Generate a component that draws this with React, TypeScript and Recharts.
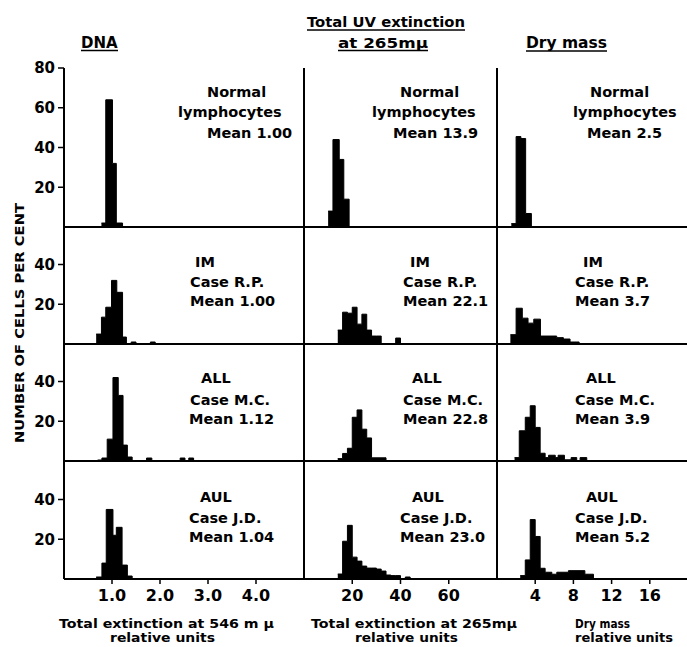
import { AreaChart, Area, XAxis, YAxis } from 'recharts';

// Histogram bins: left edges (relative units, last value closes the last bin)
// and per cent of cells falling in each bin. A 0 entry leaves a gap.
const dnaNormalEdges = [0.78, 0.87, 1.01, 1.09, 1.22];
const dnaNormalPct = [2, 64, 32, 2];
const dnaImEdges = [0.67, 0.78, 0.87, 0.99, 1.1, 1.22, 1.3, 1.4, 1.5, 1.8, 1.9];
const dnaImPct = [5, 13.5, 18.5, 32, 26, 3.5, 0, 1, 0, 1];
const dnaAllEdges = [0.7, 0.79, 0.9, 1.02, 1.13, 1.23, 1.32, 1.42, 1.72, 1.83, 2.42, 2.52, 2.6, 2.7];
const dnaAllPct = [0.5, 1.5, 11, 42, 33, 8, 2, 0, 1.5, 0, 1.5, 0, 1.5];
const dnaAulEdges = [0.67, 0.79, 0.88, 1.02, 1.09, 1.21, 1.32, 1.42];
const dnaAulPct = [1, 8, 35, 22, 26, 7, 1.5];

const uvNormalEdges = [10, 12, 14.6, 16.5, 18.7];
const uvNormalPct = [8, 44, 34, 14];
const uvImEdges = [14, 16, 18, 20, 22, 24, 26, 28, 30, 32, 38, 40];
const uvImPct = [7, 16, 15.5, 18.5, 10, 15, 7, 4, 4, 0, 3];
const uvAllEdges = [14, 16, 18, 20, 22, 24, 26, 28, 34];
const uvAllPct = [1.2, 3.8, 6.4, 22, 25.7, 16, 11.6, 1.6];
const uvAulEdges = [14, 16, 18, 20, 22, 24, 26, 28, 30, 32, 34, 36, 38, 40, 42, 44];
const uvAulPct = [2.5, 19, 27, 11, 9, 6.5, 5.5, 5.5, 5, 4, 2, 1.7, 1.7, 0, 1];

const dryNormalEdges = [1.5, 2.0, 2.5, 3.0, 3.6];
const dryNormalPct = [1.7, 45.5, 44.5, 6.8];
const dryImEdges = [1.4, 2.0, 2.65, 3.25, 3.85, 4.55, 6.25, 6.95, 7.65, 8.6];
const dryImPct = [4.7, 18, 13, 10.5, 12.5, 4, 3.2, 2.5, 1];
const dryAllEdges = [1.84, 2.33, 2.96, 3.48, 4.0, 4.52, 5.04, 5.4, 6.1, 6.4, 7.06, 7.76, 8.35, 8.7, 9.4];
const dryAllPct = [1.7, 15.2, 22, 27.8, 16.9, 3.9, 1.7, 2.9, 1.7, 2.9, 0.6, 1.7, 0, 1.7];
const dryAulEdges = [2.43, 2.96, 3.48, 4.0, 4.52, 5.04, 5.74, 6.26, 7.48, 9.2, 10.1];
const dryAulPct = [1.7, 9.6, 29.9, 21.4, 5.4, 3.4, 2.4, 3.4, 4.2, 2.4];

// rows: Normal, IM, ALL, AUL; columns: DNA, UV extinction, dry mass
const panels = [
  [[dnaNormalEdges, dnaNormalPct], [uvNormalEdges, uvNormalPct], [dryNormalEdges, dryNormalPct]],
  [[dnaImEdges, dnaImPct], [uvImEdges, uvImPct], [dryImEdges, dryImPct]],
  [[dnaAllEdges, dnaAllPct], [uvAllEdges, uvAllPct], [dryAllEdges, dryAllPct]],
  [[dnaAulEdges, dnaAulPct], [uvAulEdges, uvAulPct], [dryAulEdges, dryAulPct]],
];

const xDomains = [[0, 5], [0, 80], [0, 20]];
const xTicks = [[1, 2, 3, 4], [20, 40, 60], [4, 8, 12, 16]];
const topRowTicks = [20, 40, 60, 80];
const lowerRowTicks = [20, 40];

const notes = [
  [['Normal', 'lymphocytes', 'Mean 1.00'], ['Normal', 'lymphocytes', 'Mean 13.9'], ['Normal', 'lymphocytes', 'Mean 2.5']],
  [['IM', 'Case R.P.', 'Mean 1.00'], ['IM', 'Case R.P.', 'Mean 22.1'], ['IM', 'Case R.P.', 'Mean 3.7']],
  [['ALL', 'Case M.C.', 'Mean 1.12'], ['ALL', 'Case M.C.', 'Mean 22.8'], ['ALL', 'Case M.C.', 'Mean 3.9']],
  [['AUL', 'Case J.D.', 'Mean 1.04'], ['AUL', 'Case J.D.', 'Mean 23.0'], ['AUL', 'Case J.D.', 'Mean 5.2']],
];

// layout (pixels)
const COL_X = [[64, 304], [304, 497], [497, 688]];
const ROW_Y = [[68, 227], [227, 344], [344, 461], [461, 579]];
const PX_PER_PCT = 159 / 80;
const noteLeft = [
  [[207, 178, 207], [400, 372, 393], [590, 573, 587]],
  [[195, 190, 190], [410, 403, 403], [583, 575, 575]],
  [[201, 190, 189], [412, 403, 403], [586, 575, 575]],
  [[200, 189, 189], [412, 400, 400], [586, 575, 575]],
];
const noteBase = [[97, 117, 138], [267, 287, 306], [383, 405, 424], [502, 523, 542]];

const FONT = 'DejaVu Sans';
const PAD_L = 45;
const PAD_T = 10;
const PAD_R = 10;
const PAD_B = 40;

function Histogram({ row, col }: { row: number; col: number }) {
  const [edges, pct] = panels[row][col];
  const [x0, x1] = COL_X[col];
  const [y0, y1] = ROW_Y[row];
  const w = x1 - x0;
  const h = y1 - y0;
  const yMax = row === 0 ? 80 : h / PX_PER_PCT;
  const data = edges.map((x, i) => ({ x, y: pct[i] ?? 0 }));
  const axisLine = { stroke: '#000', strokeWidth: 2 };
  const tickLine = { stroke: '#000', strokeWidth: 1.5 };
  const labelStyle = { fill: '#000', fontSize: 15, fontWeight: 'bold', fontFamily: FONT };

  return (
    <div style={{ position: 'absolute', left: x0 - PAD_L, top: y0 - PAD_T }}>
      <AreaChart
        width={w + PAD_L + PAD_R}
        height={h + PAD_T + PAD_B}
        data={data}
        margin={{ top: PAD_T, right: PAD_R, bottom: 0, left: 0 }}
      >
        <XAxis
          type="number"
          dataKey="x"
          domain={xDomains[col]}
          ticks={xTicks[col]}
          interval={0}
          allowDataOverflow
          height={PAD_B}
          tickSize={5}
          tickMargin={6}
          axisLine={axisLine}
          tickLine={tickLine}
          tick={row === 3 ? { ...labelStyle, fontSize: 16 } : false}
          tickFormatter={(v: number) => (col === 0 ? v.toFixed(1) : String(v))}
        />
        <YAxis
          type="number"
          domain={[0, yMax]}
          ticks={row === 0 ? topRowTicks : lowerRowTicks}
          interval={0}
          allowDataOverflow
          width={PAD_L}
          tickSize={6}
          tickMargin={3}
          axisLine={axisLine}
          tickLine={tickLine}
          tick={col === 0 ? labelStyle : false}
        />
        <Area
          type="stepAfter"
          dataKey="y"
          baseValue={0}
          stroke="#000"
          strokeWidth={1}
          fill="#000"
          fillOpacity={1}
          dot={false}
          activeDot={false}
          isAnimationActive={false}
        />
      </AreaChart>
    </div>
  );
}

function Titles() {
  const t = { fontFamily: FONT, fontWeight: 'bold' as const, fill: '#000' };
  return (
    <svg width={687} height={647} style={{ position: 'absolute', left: 0, top: 0, pointerEvents: 'none' }}>
      <text x={81} y={48} fontSize={15} {...t}>DNA</text>
      <line x1={81} x2={118} y1={50.5} y2={50.5} stroke="#000" strokeWidth={1.5} />
      <text x={307} y={27} fontSize={14} textLength={158} lengthAdjust="spacingAndGlyphs" {...t}>Total UV extinction</text>
      <line x1={307} x2={465} y1={30} y2={30} stroke="#000" strokeWidth={1.5} />
      <text x={338} y={48} fontSize={14} textLength={90} lengthAdjust="spacingAndGlyphs" {...t}>at 265mμ</text>
      <line x1={338} x2={428} y1={50.5} y2={50.5} stroke="#000" strokeWidth={1.5} />
      <text x={526} y={48} fontSize={15} textLength={81} lengthAdjust="spacingAndGlyphs" {...t}>Dry mass</text>
      <line x1={526} x2={607} y1={51} y2={51} stroke="#000" strokeWidth={1.5} />

      {notes.map((rowNotes, r) =>
        rowNotes.map((lines, c) =>
          lines.map((line, k) => (
            <text key={`${r}-${c}-${k}`} x={noteLeft[r][c][k]} y={noteBase[r][k]} fontSize={14.5} {...t}>
              {line}
            </text>
          ))
        )
      )}

      <text x={59} y={628} fontSize={12.5} textLength={215} lengthAdjust="spacingAndGlyphs" {...t}>Total extinction at  546 m μ</text>
      <text x={110} y={642} fontSize={12.5} textLength={105} lengthAdjust="spacingAndGlyphs" {...t}>relative units</text>
      <text x={311} y={628} fontSize={12.5} textLength={206} lengthAdjust="spacingAndGlyphs" {...t}>Total extinction at 265mμ</text>
      <text x={355} y={642} fontSize={12.5} textLength={103} lengthAdjust="spacingAndGlyphs" {...t}>relative units</text>
      <text x={575} y={628} fontSize={12.5} textLength={55} lengthAdjust="spacingAndGlyphs" {...t}>Dry mass</text>
      <text x={575} y={642} fontSize={12.5} textLength={98} lengthAdjust="spacingAndGlyphs" {...t}>relative units</text>

      <text
        x={0}
        y={0}
        fontSize={12}
        textAnchor="middle"
        textLength={240}
        lengthAdjust="spacingAndGlyphs"
        transform="translate(24 323) rotate(-90)"
        {...t}
      >
        NUMBER OF CELLS PER CENT
      </text>
    </svg>
  );
}

export default function App() {
  return (
    <div style={{ position: 'absolute', left: 0, top: 0, width: 687, height: 647, overflow: 'hidden', background: '#fff' }}>
      {panels.map((rowPanels, r) => rowPanels.map((_, c) => <Histogram key={`${r}-${c}`} row={r} col={c} />))}
      <Titles />
    </div>
  );
}
